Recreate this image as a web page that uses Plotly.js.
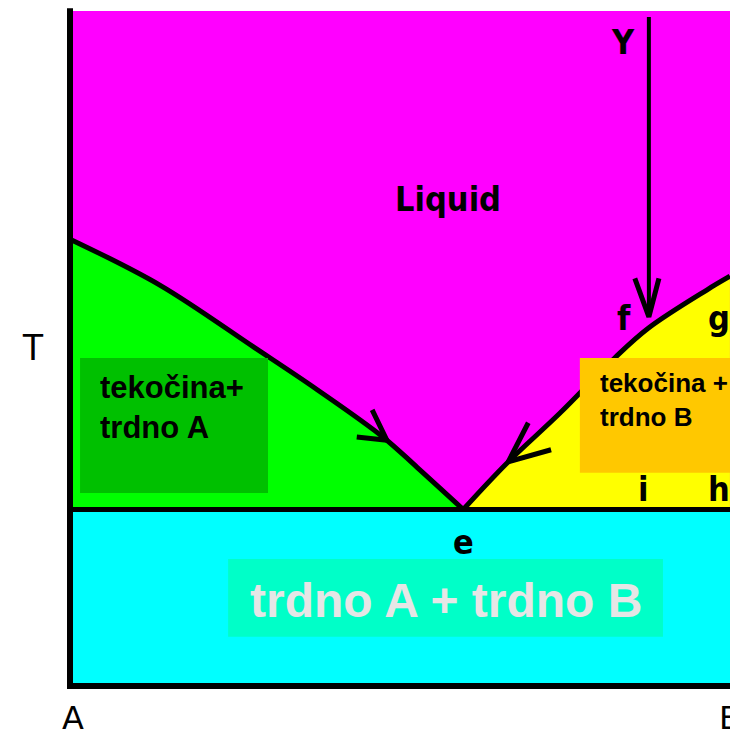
<!DOCTYPE html>
<html>
<head>
<meta charset="utf-8">
<script src="https://cdn.plot.ly/plotly-3.0.1.min.js"></script>
<style>
  html, body { margin: 0; padding: 0; background: #ffffff; }
  #chart { width: 730px; height: 736px; }
</style>
</head>
<body>
<div id="chart"></div>
<script>
// Binary eutectic phase diagram A–B (composition in % B, temperature in relative units)

// Liquidus line on the A side (from melting point of A down to the eutectic point e)
const leftLiqComp = [0, 13.4, 27.6, 36.9, 46.7, 51.8, 58.7];
const leftLiqT    = [66.2, 59.4, 50.1, 43.9, 36.9, 32.4, 26.15];

// Liquidus line on the B side (from e up towards the melting point of B)
const rightLiqComp = [58.7, 65.2, 73.1, 81.3, 86.3, 95.1, 98.5];
const rightLiqT    = [26.15, 33.0, 40.4, 48.6, 53.0, 58.7, 60.7];

// Eutectic temperature and diagram limits
const eutecticT = 26.15;
const topT = 100;
const compA = 0;
const compB = 100;

// Cooling path of alloy Y
const pathComp = [86.4, 86.4];
const pathT    = [99.1, 54.7];
const pathHeadComp = [84.3, 86.4, 87.9];
const pathHeadT    = [60.4, 54.7, 60.4];

// Arrow heads along the two liquidus lines
const leftHeadComp  = [45.1, 47.3, 42.8];
const leftHeadT     = [40.9, 36.4, 36.9];
const rightHeadComp = [68.4, 65.4, 71.8];
const rightHeadT    = [39.0, 33.2, 35.0];

// Region labels
const regionLabels = ['Liquid', 'tekočina+<br>trdno A', 'tekočina +<br>trdno B', 'trdno A + trdno B'];
const pointLabels  = ['Y', 'f', 'g', 'i', 'h', 'e'];
const axisLabels   = ['T', 'A', 'B'];

const C = {
  liquid: '#ff00ff',
  solA: '#00ff00',
  solB: '#ffff00',
  solid: '#00ffff',
  boxA: '#00c000',
  boxB: '#ffc800',
  boxAB: '#00ffc8',
  ink: '#000000'
};

function poly(xs, ys, color) {
  return { x: xs, y: ys, mode: 'lines', fill: 'toself', fillcolor: color,
           line: { width: 0, color: color }, hoverinfo: 'skip' };
}
// invisible base along the eutectic, used by the next trace's 'tonexty' fill
function base(x0, x1) {
  return { x: [x0, x1], y: [eutecticT, eutecticT], mode: 'lines',
           line: { width: 0 }, hoverinfo: 'skip' };
}
function curveFill(xs, ys, color) {
  return { x: xs, y: ys, mode: 'lines', fill: 'tonexty', fillcolor: color,
           line: { width: 0, color: color, shape: 'spline', smoothing: 1 }, hoverinfo: 'skip' };
}
function line(xs, ys, w, shape) {
  return { x: xs, y: ys, mode: 'lines', hoverinfo: 'skip',
           line: { color: C.ink, width: w, shape: shape || 'linear', smoothing: 1 } };
}

const lastB = rightLiqComp[rightLiqComp.length - 1];

const traces = [
  // liquid field
  poly([compA, compB, compB, compA], [topT, topT, eutecticT, eutecticT], C.liquid),
  // solid A + solid B
  poly([compA, compB, compB, compA], [eutecticT, eutecticT, 0, 0], C.solid),
  // liquid + solid A
  base(compA, leftLiqComp[leftLiqComp.length - 1]),
  curveFill(leftLiqComp, leftLiqT, C.solA),
  // liquid + solid B
  base(rightLiqComp[0], lastB),
  curveFill(rightLiqComp, rightLiqT, C.solB),
  // liquidus lines
  line(leftLiqComp, leftLiqT, 5, 'spline'),
  line(rightLiqComp, rightLiqT, 5, 'spline'),
  // eutectic horizontal
  line([compA, compB], [eutecticT, eutecticT], 5),
  // frame: temperature axis and composition axis
  line([compA, compA, compB], [topT + 0.4, 0, 0], 6),
  // cooling path with arrow
  line(pathComp, pathT, 4),
  line(pathHeadComp, pathHeadT, 5),
  line(leftHeadComp, leftHeadT, 5),
  line(rightHeadComp, rightHeadT, 5)
];

const boxFont = { family: 'Liberation Sans, Arial, sans-serif', weight: 'bold', color: C.ink };
const pixFont = { family: 'DejaVu Sans Condensed, DejaVu Sans, sans-serif', weight: 'bold', color: C.ink, size: 34 };
const cornerFont = { family: 'DejaVu Sans, sans-serif', color: C.ink, size: 32 };

function lab(text, x, y, font, extra) {
  return Object.assign({ text: text, x: x, y: y, xref: 'x', yref: 'y', showarrow: false,
                         xanchor: 'center', yanchor: 'middle', font: font }, extra || {});
}

const annotations = [
  lab(regionLabels[0], 56.4, 72.2, Object.assign({}, pixFont, { size: 34 })),
  lab(regionLabels[1], 4.2, 41.2, Object.assign({}, boxFont, { size: 31 }), { xanchor: 'left', align: 'left' }),
  lab(regionLabels[2], 78.8, 42.3, Object.assign({}, boxFont, { size: 26 }), { xanchor: 'left', align: 'left' }),
  lab(regionLabels[3], 56.1, 12.6, Object.assign({}, boxFont, { size: 48, color: '#e6e6e6' })),
  lab(pointLabels[0], 82.5, 95.4, pixFont),
  lab(pointLabels[1], 82.7, 54.5, pixFont),
  lab(pointLabels[2], 96.9, 54.5, pixFont),
  lab(pointLabels[3], 85.5, 29.2, pixFont),
  lab(pointLabels[4], 96.9, 29.2, pixFont),
  lab(pointLabels[5], 58.7, 21.3, pixFont),
  lab(axisLabels[0], -5.5, 50.2, { family: 'Liberation Sans, Arial, sans-serif', size: 36, color: C.ink }),
  lab(axisLabels[1], 0.45, -4.7, cornerFont),
  Object.assign(lab(axisLabels[2], 1.0, -4.7, cornerFont), { xref: 'paper' })
];

const shapes = [
  { type: 'rect', xref: 'x', yref: 'y', x0: 1.5, x1: 29.55, y0: 28.6, y1: 48.6,
    fillcolor: C.boxA, line: { width: 0 }, layer: 'above' },
  { type: 'rect', xref: 'x', yref: 'y', x0: 76.1, x1: 101, y0: 31.6, y1: 48.6,
    fillcolor: C.boxB, line: { width: 0 }, layer: 'above' },
  { type: 'rect', xref: 'x', yref: 'y', x0: 23.6, x1: 88.5, y0: 7.3, y1: 18.8,
    fillcolor: C.boxAB, line: { width: 0 }, layer: 'above' }
];

const layout = {
  width: 730, height: 736, autosize: false,
  margin: { l: 0, r: 0, t: 0, b: 0, pad: 0 },
  paper_bgcolor: '#ffffff', plot_bgcolor: '#ffffff',
  showlegend: false,
  xaxis: { range: [-70 / 6.7, 660 / 6.7], visible: false, fixedrange: true },
  yaxis: { range: [-50 / 6.75, 686 / 6.75], visible: false, fixedrange: true },
  shapes: shapes,
  annotations: annotations
};

Plotly.newPlot('chart', traces, layout, { displayModeBar: false, staticPlot: true });
</script>
</body>
</html>
